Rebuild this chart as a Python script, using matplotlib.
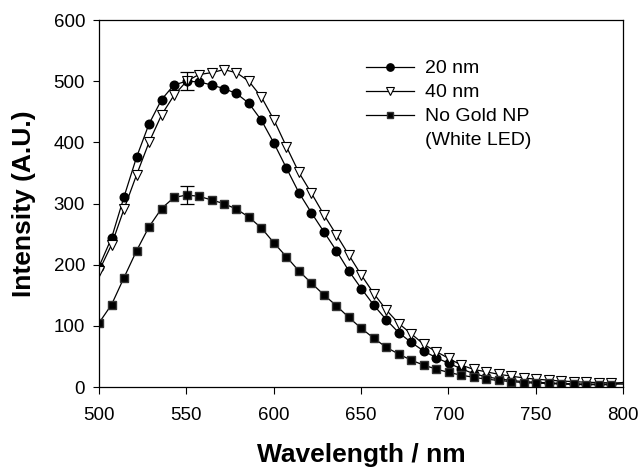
import matplotlib
matplotlib.use('Agg')
import matplotlib.pyplot as plt
from matplotlib.lines import Line2D

plt.rcParams['font.family'] = ['Liberation Sans', 'DejaVu Sans']

# wavelength (nm) of each spectrometer sample
wavelength = [500.0, 507.2, 514.3, 521.5, 528.6, 535.8, 542.9, 550.1, 557.2, 564.4,
              571.5, 578.7, 585.8, 593.0, 600.1, 607.3, 614.4, 621.6, 628.7, 635.9,
              643.0, 650.2, 657.3, 664.5, 671.6, 678.8, 685.9, 693.1, 700.2, 707.4,
              714.5, 721.7, 728.8, 736.0, 743.1, 750.3, 757.4, 764.6, 771.7, 778.9,
              786.0, 793.2, 800.3]

gold_20nm = [197, 244, 311, 376, 430, 470, 494, 500, 499, 494,
             488, 480, 464, 436, 399, 358, 318, 285, 254, 223,
             190, 161, 134, 110, 89, 73, 59, 48, 39, 30,
             22, 17, 13.5, 11, 9, 8, 7, 6, 5.5, 5,
             5, 5, 5]

gold_40nm = [190, 233, 291, 347, 400, 445, 477, 500, 511, 514,
             519, 514, 500, 474, 437, 393, 351, 317, 282, 249,
             216, 183, 153, 126, 104, 87, 70, 58, 47, 36,
             29, 25, 21, 18, 15, 13, 11.5, 10, 9, 8,
             7.5, 7, 7]

no_gold = [105, 135, 179, 223, 262, 292, 310, 314, 312, 306,
           300, 291, 278, 260, 236, 213, 190, 170, 151, 133,
           114, 96, 80, 65, 54, 44, 36, 29.5, 24, 19.6,
           16, 13, 11, 9, 7.5, 6.5, 6, 5, 4.5, 4,
           4, 4, 8]

err_idx = 7
err_val = 15

fig = plt.figure(figsize=(6.43, 4.67), dpi=100)
ax = fig.add_axes([0.154, 0.171, 0.815, 0.786])

n_vis = 42  # last sample sits beyond 800 nm, only its line shows
l1, = ax.plot(wavelength, gold_20nm, color='black', lw=0.9, marker='o', ms=6.2,
              mfc='black', mec='black', markevery=slice(0, n_vis))
l2, = ax.plot(wavelength, gold_40nm, color='black', lw=0.9, marker='v', ms=6.8,
              mfc='white', mec='black', mew=0.8, markevery=slice(0, n_vis))
l3, = ax.plot(wavelength, no_gold, color='black', lw=0.9, marker='s', ms=5.6,
              mfc='black', mec='#333333', markevery=slice(0, n_vis))

ax.errorbar(wavelength[err_idx], gold_40nm[err_idx], yerr=err_val, fmt='none',
            ecolor='black', elinewidth=0.9, capsize=5, capthick=0.9)
ax.errorbar(wavelength[err_idx], no_gold[err_idx], yerr=err_val, fmt='none',
            ecolor='black', elinewidth=0.9, capsize=5, capthick=0.9)

ax.set_xlim(500, 800)
ax.set_ylim(0, 600)
ax.set_xticks(range(500, 801, 50))
ax.set_yticks(range(0, 601, 100))
ax.tick_params(direction='out', length=4, width=0.8, labelsize=13.5, pad=6)
ax.tick_params(axis='x', length=5, pad=9)
for sp in ax.spines.values():
    sp.set_linewidth(0.9)

ax.set_xlabel('Wavelength / nm', fontsize=19, fontweight='bold', labelpad=14)
ax.set_ylabel('Intensity (A.U.)', fontsize=19, fontweight='bold', labelpad=13)

# second line of the last label gets its own row so the key sits on the first line
blank = Line2D([], [], linestyle='none')
ax.legend([l1, l2, l3, blank], ['20 nm', '40 nm', 'No Gold NP', '(White LED)'],
          loc='upper left', bbox_to_anchor=(0.51, 0.892), frameon=False,
          fontsize=14, handlelength=2.45, handletextpad=0.55, labelspacing=0.33,
          borderaxespad=0, borderpad=0, markerscale=0.85)

fig.savefig('out.png', dpi=100)
